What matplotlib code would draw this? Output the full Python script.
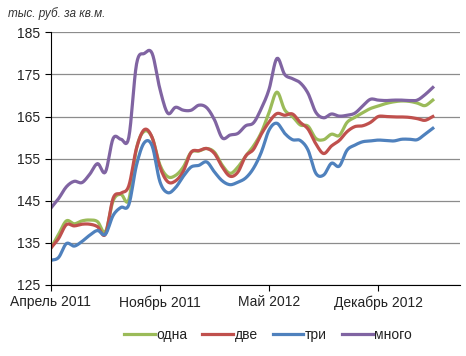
import numpy as np
import matplotlib
matplotlib.use('Agg')
import matplotlib.pyplot as plt

plt.rcParams['font.family'] = ['Liberation Sans', 'DejaVu Sans']

# months from April 2011, half-month steps
months = np.arange(0, 25, 0.5)

odna = [133.7, 137.0, 140.2, 139.5, 140.2, 140.4, 140.0, 137.6, 145.0, 146.5,
        145.2, 157.5, 161.5, 160.0, 153.5, 150.7, 151.0, 153.0, 156.5, 156.8,
        157.4, 156.5, 153.4, 151.5, 153.0, 155.6, 158.0, 161.2, 166.0, 170.8,
        166.6, 165.0, 163.0, 162.7, 159.8, 159.5, 160.8, 160.5, 163.6, 164.8,
        165.9, 166.9, 167.5, 168.1, 168.5, 168.7, 168.6, 168.2, 167.6, 168.9]

dve = [133.7, 136.0, 139.3, 139.0, 139.4, 139.4, 138.8, 137.0, 145.6, 146.8,
       148.5, 157.5, 161.9, 160.0, 153.0, 149.5, 149.7, 152.0, 156.5, 156.9,
       157.4, 156.2, 153.0, 150.8, 151.8, 155.6, 157.2, 160.8, 163.7, 165.7,
       165.3, 165.6, 163.6, 162.0, 158.5, 156.2, 158.0, 159.3, 161.4, 162.6,
       162.8, 163.6, 165.0, 165.0, 164.9, 164.9, 164.8, 164.5, 164.1, 165.0]

tri = [130.8, 131.5, 134.8, 134.2, 135.3, 136.8, 137.9, 137.0, 141.5, 143.4,
       144.0, 153.5, 158.8, 158.0, 149.5, 146.9, 148.1, 150.8, 153.0, 153.4,
       154.2, 151.8, 149.7, 148.8, 149.4, 150.4, 152.7, 156.5, 161.8, 163.4,
       161.0, 159.5, 159.3, 157.0, 151.5, 151.1, 153.9, 153.2, 157.0, 158.2,
       159.0, 159.2, 159.4, 159.3, 159.2, 159.6, 159.6, 159.5, 160.8, 162.2]

mnogo = [143.2, 145.5, 148.3, 149.6, 149.3, 151.3, 153.8, 151.8, 159.8, 159.6,
         160.0, 177.5, 180.0, 180.0, 171.5, 165.8, 167.2, 166.5, 166.5, 167.7,
         167.1, 164.2, 159.9, 160.6, 161.0, 162.8, 163.5, 166.9, 171.5, 178.8,
         175.0, 174.0, 173.0, 170.5, 166.0, 164.7, 165.6, 165.1, 165.3, 165.8,
         167.5, 169.1, 168.9, 168.8, 168.9, 168.9, 168.8, 168.9, 170.2, 171.9]

tick_pos = [0, 7, 14, 21]
tick_labels = ['Апрель 2011', 'Ноябрь 2011', 'Май 2012', 'Декабрь 2012']


def smooth(x, y, n=8):
    # catmull-rom curve through the points, like excel's smoothed line
    x = np.asarray(x, float)
    y = np.asarray(y, float)
    px = np.concatenate([[2*x[0] - x[1]], x, [2*x[-1] - x[-2]]])
    py = np.concatenate([[2*y[0] - y[1]], y, [2*y[-1] - y[-2]]])
    t = np.linspace(0, 1, n, endpoint=False)[:, None]
    out = []
    for p in (px, py):
        p0, p1, p2, p3 = p[:-3], p[1:-2], p[2:-1], p[3:]
        seg = 0.5 * (2*p1 + (-p0 + p2)*t + (2*p0 - 5*p1 + 4*p2 - p3)*t**2
                     + (-p0 + 3*p1 - 3*p2 + p3)*t**3)
        out.append(np.concatenate([seg.T.ravel(), [p[-2]]]))
    return out


fig = plt.figure(figsize=(4.66, 3.56), dpi=100)
ax = fig.add_axes([0.109, 0.2, 0.878, 0.709])

series = [(odna, '#9BBB59', 'одна'), (dve, '#C0504D', 'две'),
          (tri, '#4F81BD', 'три'), (mnogo, '#8064A2', 'много')]
for vals, col, name in series:
    sx, sy = smooth(months, vals)
    ax.plot(sx, sy, color=col, lw=2.3, label=name, solid_joinstyle='round')

ax.set_xlim(0, 26.24)
ax.set_ylim(125, 185)
ax.set_yticks(np.arange(125, 186, 10))
ax.set_xticks(tick_pos)
ax.set_xticklabels(tick_labels)
ax.yaxis.grid(True, color='#8c8c8c', lw=0.9)
ax.set_axisbelow(True)
for s in ['top', 'right']:
    ax.spines[s].set_visible(False)
ax.spines['left'].set_color('black')
ax.spines['bottom'].set_color('black')
ax.tick_params(axis='both', direction='out', length=4, color='black',
               labelsize=10, labelcolor='#222222')

fig.text(0.017, 0.962, 'тыс. руб. за кв.м.', style='italic', fontsize=8.5,
         color='#333333', va='center', ha='left')

fig.legend(loc='center', bbox_to_anchor=(0.575, 0.06), ncol=4, frameon=False,
           fontsize=10, handlelength=2.2, handletextpad=0.1, columnspacing=1.1,
           labelcolor='#222222')

fig.savefig('out.png', dpi=100)
